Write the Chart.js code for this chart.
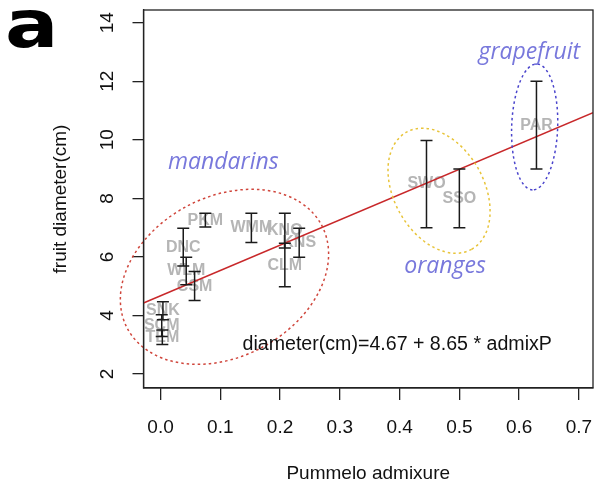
<!DOCTYPE html>
<html>
<head>
<meta charset="utf-8">
<script src="https://cdn.jsdelivr.net/npm/chart.js@4"></script>
<style>
  html, body { margin: 0; padding: 0; background: #fff; }
  canvas { display: block; }
</style>
</head>
<body>
<canvas id="fruitChart" width="595" height="488"></canvas>
<script>
// accessions, pummelo admixture and fruit diameter (cm)
const accessions = ['PKM', 'DNC', 'WLM', 'CSM', 'SNK', 'SCM', 'TEM', 'WMM', 'KNO', 'CLM', 'KNS', 'SWO', 'SSO', 'PAR'];
const admixP   = [0.075, 0.038, 0.043, 0.057, 0.004, 0.002, 0.003, 0.152, 0.208, 0.208, 0.232, 0.445, 0.500, 0.629];
const diamMean = [7.25, 6.33, 5.52, 5.00, 4.16, 3.64, 3.25, 6.99, 6.90, 5.72, 6.48, 8.49, 8.00, 10.50];
const diamLow  = [7.02, 5.69, 5.05, 4.51, 3.85, 3.28, 3.01, 6.49, 6.30, 4.98, 5.99, 7.00, 7.00, 9.00];
const diamHigh = [7.49, 6.98, 5.99, 5.50, 4.47, 4.02, 3.50, 7.49, 7.49, 6.47, 6.98, 9.98, 9.00, 12.00];

// fitted line
const intercept = 4.67;
const slope = 8.65;

const xTicks = [0, 0.1, 0.2, 0.3, 0.4, 0.5, 0.6, 0.7];
const yTicks = [2, 4, 6, 8, 10, 12, 14];
const xMin = -0.0285, xMax = 0.7236;
const yMin = 1.522, yMax = 14.434;

// group annotations (centre in data units, radii in px)
const groups = [
    { name: 'mandarins',  color: '#d0463c', cx: 0.107, cy: 5.32,  rx: 110, ry: 80, rot: -28, tx: 0.105, ty: 9.21 },
    { name: 'oranges',    color: '#e8c43a', cx: 0.466, cy: 8.26,  rx: 67,  ry: 45, rot: 61,  tx: 0.476, ty: 5.69 },
    { name: 'grapefruit', color: '#4a44cc', cx: 0.626, cy: 10.44, rx: 63,  ry: 23, rot: 92,  tx: 0.617, ty: 13.0 }
];

const FONT = '"Liberation Sans", Arial, sans-serif';

const overlay = {
    id: 'overlay',
    beforeDatasetsDraw(chart) {
        const { ctx, scales: { x, y } } = chart;
        ctx.save();
        ctx.font = 'bold 16px ' + FONT;
        ctx.fillStyle = '#b5b5b5';
        ctx.textAlign = 'center';
        ctx.textBaseline = 'middle';
        accessions.forEach((name, i) => {
            ctx.fillText(name, x.getPixelForValue(admixP[i]), y.getPixelForValue(diamMean[i]));
        });
        ctx.restore();
    },
    afterDatasetsDraw(chart) {
        const { ctx, chartArea, scales: { x, y } } = chart;
        ctx.save();

        // error bars
        ctx.strokeStyle = '#1a1a1a';
        ctx.lineWidth = 1.5;
        accessions.forEach((name, i) => {
            const px = x.getPixelForValue(admixP[i]);
            const lo = y.getPixelForValue(diamLow[i]);
            const hi = y.getPixelForValue(diamHigh[i]);
            ctx.beginPath();
            ctx.moveTo(px, lo); ctx.lineTo(px, hi);
            ctx.moveTo(px - 6, lo); ctx.lineTo(px + 6, lo);
            ctx.moveTo(px - 6, hi); ctx.lineTo(px + 6, hi);
            ctx.stroke();
        });

        // group ellipses and names
        groups.forEach(g => {
            ctx.strokeStyle = g.color;
            ctx.lineWidth = 1.5;
            ctx.setLineDash([2.5, 3]);
            ctx.beginPath();
            ctx.ellipse(x.getPixelForValue(g.cx), y.getPixelForValue(g.cy), g.rx, g.ry, g.rot * Math.PI / 180, 0, Math.PI * 2);
            ctx.stroke();
            ctx.setLineDash([]);
            ctx.font = 'italic 23px "Open Sans", sans-serif';
            ctx.fillStyle = '#7878dc';
            ctx.textAlign = 'center';
            ctx.textBaseline = 'middle';
            ctx.fillText(g.name, x.getPixelForValue(g.tx), y.getPixelForValue(g.ty));
        });

        // equation
        ctx.font = '19.6px ' + FONT;
        ctx.fillStyle = '#111';
        ctx.textAlign = 'center';
        ctx.textBaseline = 'middle';
        ctx.fillText('diameter(cm)=4.67 + 8.65 * admixP', x.getPixelForValue(0.396), y.getPixelForValue(2.99));

        // box
        ctx.strokeStyle = '#222';
        ctx.lineWidth = 1.3;
        ctx.strokeRect(chartArea.left, chartArea.top, chartArea.right - chartArea.left, chartArea.bottom - chartArea.top);
        ctx.restore();
    },
    afterDraw(chart) {
        const { ctx, chartArea, scales: { y } } = chart;
        ctx.save();
        ctx.fillStyle = '#111';
        ctx.font = '19px ' + FONT;
        ctx.textAlign = 'center';
        ctx.textBaseline = 'middle';
        yTicks.forEach(v => {
            ctx.save();
            ctx.translate(108, y.getPixelForValue(v));
            ctx.rotate(-Math.PI / 2);
            ctx.fillText(String(v), 0, 0);
            ctx.restore();
        });
        ctx.save();
        ctx.translate(61, (chartArea.top + chartArea.bottom) / 2);
        ctx.rotate(-Math.PI / 2);
        ctx.fillText('fruit diameter(cm)', 0, 0);
        ctx.restore();
        ctx.fillText('Pummelo admixure', (chartArea.left + chartArea.right) / 2, 474);

        // panel letter
        ctx.font = 'bold 66px "DejaVu Sans", sans-serif';
        ctx.fillStyle = '#000';
        ctx.textAlign = 'left';
        ctx.textBaseline = 'alphabetic';
        ctx.translate(5, 47);
        ctx.scale(1.2, 1);
        ctx.fillText('a', 0, 0);
        ctx.restore();
    }
};

new Chart(document.getElementById('fruitChart').getContext('2d'), {
    type: 'scatter',
    data: {
        datasets: [
            {
                label: 'means',
                data: admixP.map((a, i) => ({ x: a, y: diamMean[i] })),
                pointRadius: 0,
                showLine: false
            },
            {
                type: 'line',
                label: 'fit',
                data: [xMin, xMax].map(a => ({ x: a, y: intercept + slope * a })),
                borderColor: '#c8282a',
                borderWidth: 1.5,
                pointRadius: 0,
                fill: false
            }
        ]
    },
    options: {
        responsive: false,
        animation: false,
        devicePixelRatio: 1,
        layout: { padding: { top: 10, right: 2, left: 0, bottom: 0 } },
        plugins: { legend: { display: false }, tooltip: { enabled: false } },
        scales: {
            x: {
                type: 'linear',
                min: xMin,
                max: xMax,
                afterBuildTicks: s => { s.ticks = xTicks.map(v => ({ value: v })); },
                afterFit: s => { s.height = 100; s.paddingLeft = 0; s.paddingRight = 0; },
                grid: { drawOnChartArea: false, drawTicks: true, tickLength: 12, color: '#222', lineWidth: 1.3 },
                border: { display: true, color: '#222', width: 1.3 },
                ticks: {
                    font: { family: FONT, size: 19 },
                    color: '#111',
                    padding: 16,
                    maxRotation: 0,
                    callback: v => v.toFixed(1)
                }
            },
            y: {
                type: 'linear',
                min: yMin,
                max: yMax,
                afterBuildTicks: s => { s.ticks = yTicks.map(v => ({ value: v })); },
                afterFit: s => { s.width = 143.5; s.paddingTop = 0; s.paddingBottom = 0; },
                grid: { drawOnChartArea: false, drawTicks: true, tickLength: 11, color: '#222', lineWidth: 1.3 },
                border: { display: true, color: '#222', width: 1.3 },
                ticks: { display: false }
            }
        }
    },
    plugins: [overlay]
});
</script>
</body>
</html>
